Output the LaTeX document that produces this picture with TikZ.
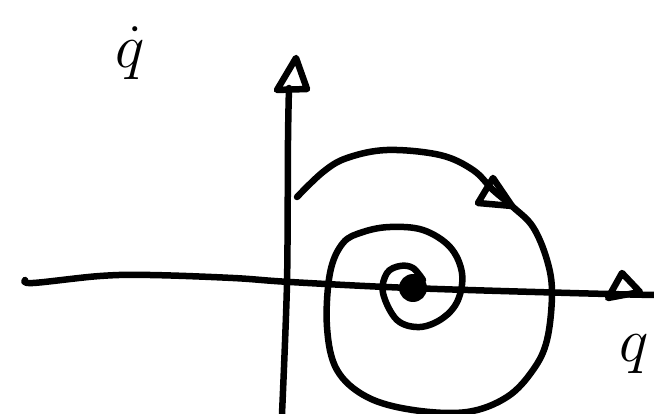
\documentclass[tikz,border=0pt]{standalone}
\usepackage{graphicx}
\begin{document}
\begin{tikzpicture}[x=1pt,y=-1pt,
  ink/.style={line width=6.5pt,line cap=round,line join=round},
  lbl/.style={inner sep=0pt}]
\useasboundingbox (0,0) rectangle (654,414);
% horizontal axis
\draw[ink] plot[smooth,tension=0.6] coordinates {(25,280) (33,283) (100,276) (150,275) (233,278) (290,282) (410,288) (570,293) (654,295)};
\draw[ink] (608,298) -- (622,273) -- (640,292) -- cycle;
% vertical axis
\draw[ink] plot[smooth] coordinates {(289,88) (288,140) (287,283) (282,414)};
\draw[ink] (296,58) -- (277,90) -- (307,89) -- cycle;
% spiral
\draw[ink] plot[smooth,tension=0.6] coordinates {(297,197) (323,172) (347,158) (387,150) (440,155) (473,170) (493,190) (513,207) (533,227) (547,260) (552,293) (547,340) (533,370) (507,397) (467,412) (413,410) (367,397) (337,370) (327,327) (330,273) (343,243) (363,232) (390,227) (423,230) (450,247) (462,273) (458,300) (443,318) (420,327) (397,320) (383,293) (387,273) (400,266) (413,268) (423,280)};
\draw[ink] (493,178) -- (478,203) -- (512,206) -- cycle;
\fill (413,288) circle (14);
% labels
\node[lbl,anchor=base] (qdot) at (130,68) {\scalebox{2.5}{\Huge$\dot q$}};
\node[lbl,anchor=base] (q) at (634,362) {\scalebox{2.5}{\Huge$q$}};
\end{tikzpicture}
\end{document}
